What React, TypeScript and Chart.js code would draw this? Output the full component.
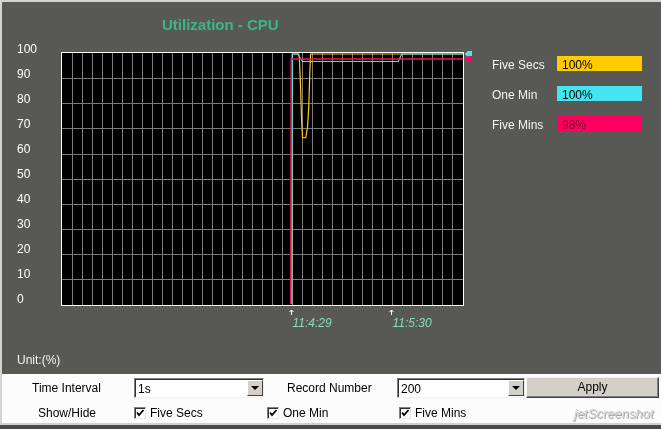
import React, { useEffect, useRef } from 'react';
import { Chart, registerables } from 'chart.js';

Chart.register(...registerables);

const seriesNames = ['Five Secs', 'One Min', 'Five Mins'];
const recordCount = 200;
const gridStep = 5;
const yTicks = [0, 10, 20, 30, 40, 50, 60, 70, 80, 90, 100];
const timeTickRecords = [114, 164];
const timeTickLabels = ['11:4:29', '11:5:30'];

// record position / percent pairs
const fiveSecsRecords = [114.5, 114.8, 118.0, 118.3, 118.9, 119.4, 119.9, 121.5, 122.4, 123.0, 123.5, 123.9, 200];
const fiveSecsValues = [0, 100, 100, 98.5, 87, 73.5, 66.5, 66.5, 71, 79, 92, 100, 100];
const oneMinRecords = [114.5, 114.8, 117.5, 119.8, 167.7, 169.4, 200];
const oneMinValues = [0, 100, 100, 97, 97, 100, 100];
const fiveMinsRecords = [114.0, 114.2, 200];
const fiveMinsValues = [0, 98, 98];

const lineColors = ['#ffcc10', '#55dcea', '#e8155c'];
const boxColors = ['#ffcc00', '#44e4f0', '#ff0062'];
const boxTextColors = ['#000', '#000', '#7a0024'];

const font = '"Liberation Sans", Arial, sans-serif';
const gridColor = '#7d7d7d';

const toPoints = (xs: number[], ys: number[]) => xs.map((x, i) => ({ x, y: ys[i] }));
const lastOf = (ys: number[]) => ys[ys.length - 1];
const seriesValues = [fiveSecsValues, oneMinValues, fiveMinsValues];

const plotFrame = {
  id: 'plotFrame',
  beforeDraw(chart: any) {
    const { ctx, chartArea: a } = chart;
    ctx.save();
    ctx.fillStyle = '#000';
    ctx.fillRect(a.left, a.top, a.right - a.left, a.bottom - a.top);
    ctx.restore();
  },
  afterDraw(chart: any) {
    const { ctx, chartArea: a } = chart;
    ctx.save();
    ctx.strokeStyle = '#fff';
    ctx.lineWidth = 1;
    ctx.strokeRect(a.left + 0.5, a.top + 0.5, a.right - a.left, a.bottom - a.top);
    ctx.restore();
  },
};

const timeMarks = {
  id: 'timeMarks',
  afterDraw(chart: any) {
    const { ctx, chartArea: a, scales } = chart;
    ctx.save();
    timeTickRecords.forEach((rec, i) => {
      const px = Math.round(scales.x.getPixelForValue(rec)) + 0.5;
      const top = a.bottom + 5;
      ctx.strokeStyle = '#fff';
      ctx.lineWidth = 1;
      ctx.beginPath();
      ctx.moveTo(px, top);
      ctx.lineTo(px, top + 5);
      ctx.moveTo(px - 2, top + 2);
      ctx.lineTo(px, top);
      ctx.lineTo(px + 2, top + 2);
      ctx.stroke();
      ctx.fillStyle = '#86dcc0';
      ctx.font = 'italic 12px ' + font;
      ctx.textAlign = 'left';
      ctx.textBaseline = 'middle';
      ctx.fillText(timeTickLabels[i], px + 1, a.bottom + 19);
    });
    ctx.restore();
  },
};

const lastMarks = {
  id: 'lastMarks',
  afterDraw(chart: any) {
    const { ctx, chartArea: a, scales } = chart;
    ctx.save();
    chart.data.datasets.forEach((ds: any, i: number) => {
      const last = ds.data[ds.data.length - 1];
      const py = scales.y.getPixelForValue(last.y);
      ctx.fillStyle = boxColors[i];
      ctx.beginPath();
      ctx.moveTo(a.right + 2, py);
      ctx.lineTo(a.right + 5, py - 3);
      ctx.lineTo(a.right + 9, py - 3);
      ctx.lineTo(a.right + 9, py + 3);
      ctx.lineTo(a.right + 5, py + 3);
      ctx.closePath();
      ctx.fill();
    });
    ctx.restore();
  },
};

const CpuChart = () => {
  const canvasRef = useRef<HTMLCanvasElement>(null);

  useEffect(() => {
    if (!canvasRef.current) return;
    const recordSets = [fiveSecsRecords, oneMinRecords, fiveMinsRecords];

    const chart = new Chart(canvasRef.current, {
      type: 'line',
      data: {
        datasets: seriesNames.map((name, i) => ({
          label: name,
          data: toPoints(recordSets[i], seriesValues[i]),
          borderColor: lineColors[i],
          borderWidth: i === 2 ? 1.5 : 1.2,
          pointRadius: 0,
          tension: 0,
          fill: false,
          order: 2 - i,
        })),
      },
      options: {
        animation: false,
        responsive: true,
        maintainAspectRatio: false,
        layout: { padding: { left: 17, top: 52, right: 198, bottom: 69 } },
        plugins: {
          legend: { display: false },
          tooltip: { enabled: false },
        },
        scales: {
          x: {
            type: 'linear',
            min: -0.7,
            max: recordCount,
            border: { display: false },
            grid: { color: gridColor, drawTicks: false },
            ticks: { display: false },
            afterBuildTicks: (axis: any) => {
              const ticks = [];
              for (let v = gridStep; v < recordCount; v += gridStep) ticks.push({ value: v });
              axis.ticks = ticks;
            },
            afterFit: (axis: any) => {
              axis.height = 0;
            },
          },
          y: {
            min: -0.4,
            max: 100.8,
            border: { display: false },
            grid: {
              drawTicks: false,
              color: (ctx: any) =>
                ctx.tick && (ctx.tick.value === 0 || ctx.tick.value === 100) ? 'transparent' : gridColor,
            },
            ticks: {
              color: '#fff',
              font: { family: font, size: 12 },
              crossAlign: 'far',
              labelOffset: -4.5,
              padding: 0,
            },
            afterBuildTicks: (axis: any) => {
              axis.ticks = yTicks.map((value) => ({ value }));
            },
            afterFit: (axis: any) => {
              axis.width = 44;
            },
          },
        },
      },
      plugins: [plotFrame, timeMarks, lastMarks],
    });

    return () => {
      chart.destroy();
    };
  }, []);

  return (
    <div style={{ position: 'absolute', left: 0, top: 0, width: 661, height: 374 }}>
      <canvas ref={canvasRef} />
    </div>
  );
};

const Text = ({ left, cy, children, style }: any) => (
  <div
    style={{
      position: 'absolute',
      left,
      top: cy - 7,
      lineHeight: '14px',
      fontSize: 12,
      whiteSpace: 'nowrap',
      ...style,
    }}
  >
    {children}
  </div>
);

const DropBox = ({ left, width, value }: any) => (
  <div
    style={{
      position: 'absolute',
      left,
      top: 378,
      width,
      height: 20,
      boxSizing: 'border-box',
      background: '#fff',
      borderTop: '1px solid #808080',
      borderLeft: '1px solid #808080',
      borderRight: '1px solid #f0f0f0',
      borderBottom: '1px solid #f0f0f0',
      boxShadow: 'inset 1px 1px 0 #303030',
    }}
  >
    <span style={{ position: 'absolute', left: 3, top: 3, lineHeight: '14px', fontSize: 12 }}>{value}</span>
    <div
      style={{
        position: 'absolute',
        right: 0,
        top: 1,
        width: 16,
        height: 16,
        boxSizing: 'border-box',
        background: '#d4d0c8',
        borderTop: '1px solid #fff',
        borderLeft: '1px solid #fff',
        borderRight: '1px solid #404040',
        borderBottom: '1px solid #404040',
      }}
    >
      <div
        style={{
          position: 'absolute',
          left: 3,
          top: 5,
          width: 0,
          height: 0,
          borderLeft: '4px solid transparent',
          borderRight: '4px solid transparent',
          borderTop: '4px solid #000',
        }}
      />
    </div>
  </div>
);

const CheckBox = ({ left, label }: any) => (
  <>
    <div
      style={{
        position: 'absolute',
        left,
        top: 407,
        width: 12,
        height: 12,
        boxSizing: 'border-box',
        background: '#fff',
        borderTop: '1px solid #808080',
        borderLeft: '1px solid #808080',
        borderRight: '1px solid #e8e8e8',
        borderBottom: '1px solid #e8e8e8',
        boxShadow: 'inset 1px 1px 0 #303030',
      }}
    >
      <svg width="10" height="10" style={{ position: 'absolute', left: 0, top: 0 }}>
        <polyline points="2,4.5 4,7 8.5,2" fill="none" stroke="#000" strokeWidth="1.8" />
      </svg>
    </div>
    <Text left={left + 16} cy={413}>{label}</Text>
  </>
);

const App = () => {
  const legendRows = [64.5, 94.5, 124.5];
  return (
    <div
      style={{
        position: 'absolute',
        left: 0,
        top: 0,
        width: 661,
        height: 429,
        overflow: 'hidden',
        background: '#fcfcfc',
        fontFamily: font,
        color: '#000',
      }}
    >
      <div style={{ position: 'absolute', left: 0, top: 0, width: 661, height: 2, background: '#d4d4d4' }} />
      <div
        style={{
          position: 'absolute',
          left: 0,
          top: 2,
          width: 661,
          height: 372,
          boxSizing: 'border-box',
          background: '#585955',
          borderLeft: '2px solid #d4d4d4',
        }}
      />
      <CpuChart />
      <div
        style={{
          position: 'absolute',
          left: 162,
          top: 15.6,
          lineHeight: '17px',
          fontSize: 15,
          fontWeight: 'bold',
          color: '#3db490',
          whiteSpace: 'nowrap',
        }}
      >
        Utilization - CPU
      </div>
      {seriesNames.map((name, i) => (
        <React.Fragment key={name}>
          <Text left={492} cy={legendRows[i]} style={{ color: '#f4f4f4' }}>
            {name}
          </Text>
          <div
            style={{
              position: 'absolute',
              left: 557,
              top: legendRows[i] - 8.5,
              width: 85,
              height: 15,
              background: boxColors[i],
            }}
          />
          <Text left={562} cy={legendRows[i]} style={{ color: boxTextColors[i] }}>
            {lastOf(seriesValues[i])}%
          </Text>
        </React.Fragment>
      ))}
      <Text left={17} cy={360} style={{ color: '#f4f4f4' }}>
        Unit:(%)
      </Text>

      <div style={{ position: 'absolute', left: 0, top: 374, width: 2, height: 49, background: '#d4d4d4' }} />
      <Text left={32} cy={388}>Time Interval</Text>
      <DropBox left={134} width={130} value="1s" />
      <Text left={287} cy={388}>Record Number</Text>
      <DropBox left={397} width={128} value="200" />
      <div
        style={{
          position: 'absolute',
          left: 526,
          top: 377,
          width: 133,
          height: 21,
          boxSizing: 'border-box',
          background: '#d4d0c8',
          borderTop: '1px solid #f4f4f4',
          borderLeft: '1px solid #f4f4f4',
          borderRight: '1px solid #404040',
          borderBottom: '1px solid #404040',
          boxShadow: 'inset -1px -1px 0 #808080',
          textAlign: 'center',
          fontSize: 12,
          lineHeight: '19px',
        }}
      >
        Apply
      </div>
      <Text left={38} cy={413}>Show/Hide</Text>
      <CheckBox left={134} label={seriesNames[0]} />
      <CheckBox left={267} label={seriesNames[1]} />
      <CheckBox left={399} label={seriesNames[2]} />
      <Text
        left={574}
        cy={414}
        style={{ color: '#d2d2d2', fontStyle: 'italic', fontSize: 13, textShadow: '1px 1px 0 #aaa' }}
      >
        jetScreenshot
      </Text>
      <div style={{ position: 'absolute', left: 0, top: 423, width: 661, height: 2, background: '#d0d0d0' }} />
      <div style={{ position: 'absolute', left: 0, top: 425, width: 661, height: 4, background: '#4a4a4a' }} />
    </div>
  );
};

export default App;
